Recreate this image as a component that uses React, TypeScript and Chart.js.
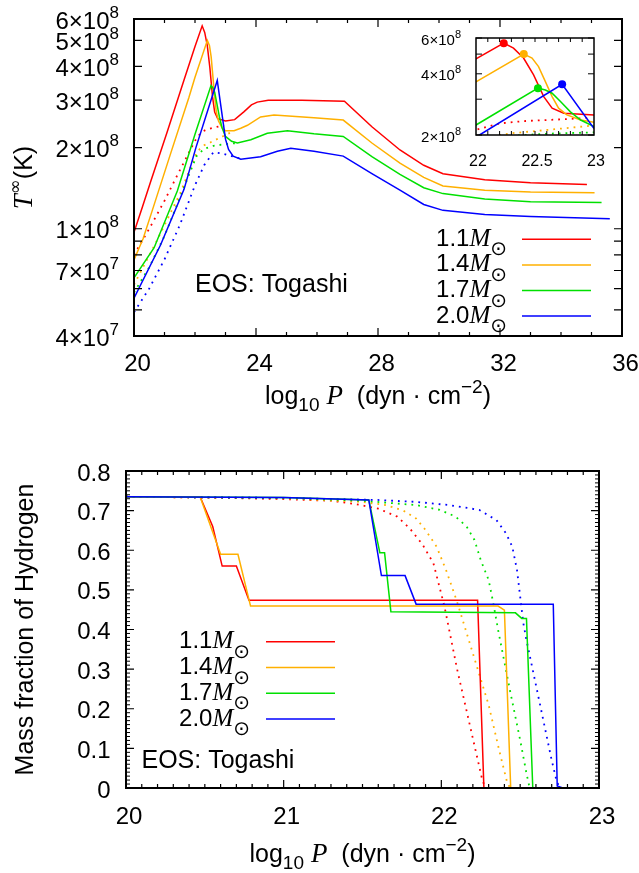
import React, { useEffect, useRef } from "react";
import { Chart, registerables } from "chart.js";

Chart.register(...registerables);

const W = 639;
const H = 873;

const SANS = '"Liberation Sans", Arial, Helvetica, sans-serif';
const SERIF = '"Liberation Serif", "Times New Roman", serif';
const SYM = '"DejaVu Sans", sans-serif';

const COLORS = ["#ff0000", "#ffb000", "#00e000", "#0000ff"];
const MASS_LABELS = ["1.1", "1.4", "1.7", "2.0"];

// ---------- Top panel: T∞ vs log10 P (solid) ----------
const RED_P = [20.0, 20.27, 20.55, 21.09, 21.64, 22.0, 22.235, 22.318, 22.403, 22.488, 22.574, 22.645, 22.744, 23.0, 23.3, 23.61, 23.85, 24.04, 24.4, 25.5, 26.9, 27.8, 28.72, 29.5, 30.13, 31.5, 33.0, 34.85];
const RED_T = [9.7e7, 1.2e8, 1.5e8, 2.29e8, 3.56e8, 4.74e8, 5.66e8, 5.35e8, 4.78e8, 3.95e8, 3.09e8, 2.71e8, 2.56e8, 2.51e8, 2.54e8, 2.72e8, 2.88e8, 2.95e8, 3.0e8, 3.0e8, 2.97e8, 2.39e8, 1.96e8, 1.72e8, 1.6e8, 1.52e8, 1.48e8, 1.46e8];

const ORANGE_P = [20.0, 20.3, 20.6, 21.2, 21.8, 22.0, 22.405, 22.475, 22.53, 22.588, 22.645, 22.7, 22.77, 22.887, 23.0, 23.28, 23.5, 23.72, 24.15, 24.59, 25.9, 26.86, 27.8, 28.72, 29.5, 30.13, 31.5, 33.0, 35.1];
const ORANGE_T = [7.66e7, 9.2e7, 1.17e8, 1.9e8, 3.07e8, 3.65e8, 5.0e8, 4.78e8, 4.34e8, 3.66e8, 3.09e8, 2.71e8, 2.51e8, 2.37e8, 2.31e8, 2.31e8, 2.36e8, 2.42e8, 2.6e8, 2.64e8, 2.58e8, 2.53e8, 2.08e8, 1.75e8, 1.55e8, 1.44e8, 1.39e8, 1.37e8, 1.36e8];

const GREEN_P = [20.0, 20.66, 21.42, 22.0, 22.525, 22.588, 22.645, 22.716, 22.8, 22.887, 23.0, 23.2, 23.39, 23.83, 24.37, 25.03, 25.9, 26.86, 27.8, 28.72, 29.5, 30.13, 31.5, 33.0, 35.33];
const GREEN_T = [6.57e7, 8.5e7, 1.38e8, 2.24e8, 3.4e8, 3.33e8, 3.21e8, 2.92e8, 2.6e8, 2.37e8, 2.2e8, 2.11e8, 2.08e8, 2.14e8, 2.26e8, 2.31e8, 2.25e8, 2.2e8, 1.85e8, 1.59e8, 1.42e8, 1.35e8, 1.29e8, 1.26e8, 1.25e8];

const BLUE_P = [20.0, 20.87, 21.64, 22.03, 22.73, 23.0, 23.1, 23.25, 23.5, 24.15, 24.7, 25.14, 25.9, 26.86, 27.8, 28.72, 29.5, 30.13, 31.5, 33.0, 35.6];
const BLUE_T = [5.53e7, 8.7e7, 1.4e8, 2.0e8, 3.55e8, 2.15e8, 1.97e8, 1.86e8, 1.81e8, 1.85e8, 1.94e8, 1.99e8, 1.94e8, 1.86e8, 1.6e8, 1.39e8, 1.23e8, 1.17e8, 1.13e8, 1.11e8, 1.09e8];

// ---------- Top panel: dotted curves ----------
const RED_DOT_P = [20.0, 20.5, 21.0, 21.42, 22.0, 22.2, 22.4, 22.6, 22.8, 22.95];
const RED_DOT_T = [8.0e7, 1.0e8, 1.27e8, 1.58e8, 2.12e8, 2.28e8, 2.34e8, 2.37e8, 2.4e8, 2.43e8];
const ORANGE_DOT_P = [20.0, 20.7, 21.51, 22.0, 22.16, 22.3, 22.5, 22.9, 23.26];
const ORANGE_DOT_T = [6.2e7, 8.8e7, 1.35e8, 1.86e8, 1.98e8, 2.04e8, 2.09e8, 2.2e8, 2.3e8];
const GREEN_DOT_P = [20.0, 20.5, 21.0, 21.5, 22.05, 22.3, 22.6, 23.0, 23.39];
const GREEN_DOT_T = [5.8e7, 7.2e7, 9.4e7, 1.3e8, 1.86e8, 1.98e8, 2.03e8, 2.06e8, 2.08e8];
const BLUE_DOT_P = [20.0, 20.5, 21.0, 21.5, 22.0, 22.3, 22.6, 22.9, 23.2, 23.5];
const BLUE_DOT_T = [4.9e7, 6.0e7, 7.7e7, 1.03e8, 1.45e8, 1.72e8, 1.92e8, 1.9e8, 1.86e8, 1.82e8];

// Peak markers (inset)
const PEAK_P = [22.235, 22.405, 22.525, 22.73];
const PEAK_T = [5.66e8, 5.0e8, 3.4e8, 3.55e8];

// ---------- Bottom panel: hydrogen mass fraction (solid) ----------
const H_RED_P = [20.0, 20.47, 20.55, 20.61, 20.7, 20.78, 22.23, 22.27, 22.8];
const H_RED_X = [0.735, 0.735, 0.66, 0.56, 0.56, 0.474, 0.474, 0.0, 0.0];
const H_ORANGE_P = [20.0, 20.47, 20.6, 20.71, 20.79, 22.36, 22.4, 22.44, 22.8];
const H_ORANGE_X = [0.735, 0.735, 0.59, 0.59, 0.459, 0.459, 0.449, 0.0, 0.0];
const H_GREEN_P = [20.0, 21.0, 21.54, 21.61, 21.64, 21.68, 22.47, 22.51, 22.54, 22.58, 22.8];
const H_GREEN_X = [0.735, 0.733, 0.727, 0.594, 0.594, 0.445, 0.442, 0.428, 0.428, 0.0, 0.0];
const H_BLUE_P = [20.0, 21.0, 21.54, 21.62, 21.77, 21.84, 22.71, 22.735, 22.77, 22.8];
const H_BLUE_X = [0.735, 0.733, 0.727, 0.536, 0.536, 0.464, 0.464, 0.005, 0.0, 0.0];

// ---------- Bottom panel: dotted ----------
const H_RED_DOT_P = [20.0, 20.5, 21.0, 21.3, 21.45, 21.6, 21.72, 21.8, 21.88, 21.95, 22.02, 22.1, 22.2, 22.26, 22.28];
const H_RED_DOT_X = [0.735, 0.733, 0.729, 0.725, 0.717, 0.705, 0.685, 0.655, 0.615, 0.567, 0.458, 0.3, 0.125, 0.02, 0.0];
const H_ORANGE_DOT_P = [20.0, 21.0, 21.5, 21.65, 21.76, 21.84, 21.9, 21.97, 22.03, 22.1, 22.2, 22.3, 22.37, 22.42, 22.44];
const H_ORANGE_DOT_X = [0.735, 0.731, 0.722, 0.714, 0.7, 0.68, 0.651, 0.609, 0.55, 0.47, 0.34, 0.21, 0.09, 0.01, 0.0];
const H_GREEN_DOT_P = [20.0, 21.0, 21.5, 21.84, 21.99, 22.09, 22.16, 22.21, 22.25, 22.3, 22.33, 22.36, 22.435, 22.5, 22.54, 22.56];
const H_GREEN_DOT_X = [0.735, 0.732, 0.725, 0.714, 0.702, 0.685, 0.66, 0.626, 0.575, 0.525, 0.466, 0.399, 0.247, 0.121, 0.037, 0.0];
const H_BLUE_DOT_P = [20.0, 21.0, 21.59, 21.84, 22.05, 22.24, 22.35, 22.41, 22.45, 22.48, 22.5, 22.52, 22.54, 22.6, 22.65, 22.7, 22.73, 22.75];
const H_BLUE_DOT_X = [0.735, 0.732, 0.727, 0.722, 0.714, 0.702, 0.676, 0.643, 0.609, 0.55, 0.483, 0.416, 0.373, 0.26, 0.165, 0.07, 0.02, 0.0];

// ---------- Tick values ----------
const TOP_X_LABELS = [20, 24, 28, 32, 36];
const TOP_X_MINOR = [21, 22, 23, 25, 26, 27, 29, 30, 31, 33, 34, 35];
const TOP_Y_TICKS = [4e7, 5e7, 6e7, 7e7, 8e7, 9e7, 1e8, 2e8, 3e8, 4e8, 5e8, 6e8];
const TOP_Y_LABELS = [4e7, 7e7, 1e8, 2e8, 3e8, 4e8, 5e8, 6e8];
const INSET_X_LABELS = [22, 22.5, 23];
const INSET_Y_TICKS = [2e8, 3e8, 4e8, 5e8, 6e8];
const INSET_Y_LABELS = [2e8, 4e8, 6e8];
const BOT_X_LABELS = [20, 21, 22, 23];
const BOT_Y_LABELS = [0, 0.1, 0.2, 0.3, 0.4, 0.5, 0.6, 0.7, 0.8];

// ---------- fonts ----------
const F_TICK = `24px ${SANS}`;
const F_SUP = `17px ${SANS}`;
const F_TITLE = `25px ${SANS}`;
const F_SUB = `19px ${SANS}`;
const F_ITAL = `italic 27px ${SERIF}`;
const F_LEG = `24px ${SANS}`;
const F_M = `italic 25px ${SERIF}`;
const F_ODOT = `20px ${SYM}`;

type Seg = { t: string; f: string; dy?: number };

function drawRich(ctx: CanvasRenderingContext2D, segs: Seg[], x: number, y: number, align: "left" | "right" | "center") {
  let w = 0;
  for (const s of segs) {
    ctx.font = s.f;
    w += ctx.measureText(s.t).width;
  }
  let cx = align === "left" ? x : align === "right" ? x - w : x - w / 2;
  ctx.textAlign = "left";
  ctx.textBaseline = "alphabetic";
  for (const s of segs) {
    ctx.font = s.f;
    ctx.fillText(s.t, cx, y + (s.dy || 0));
    cx += ctx.measureText(s.t).width;
  }
}

function ticksX(ctx: CanvasRenderingContext2D, a: any, s: any, vals: number[], len: number) {
  ctx.beginPath();
  for (const v of vals) {
    const p = s.getPixelForValue(v);
    ctx.moveTo(p, a.bottom);
    ctx.lineTo(p, a.bottom - len);
    ctx.moveTo(p, a.top);
    ctx.lineTo(p, a.top + len);
  }
  ctx.stroke();
}

function ticksY(ctx: CanvasRenderingContext2D, a: any, s: any, vals: number[], len: number) {
  ctx.beginPath();
  for (const v of vals) {
    const p = s.getPixelForValue(v);
    ctx.moveTo(a.left, p);
    ctx.lineTo(a.left + len, p);
    ctx.moveTo(a.right, p);
    ctx.lineTo(a.right - len, p);
  }
  ctx.stroke();
}

function legend(ctx: CanvasRenderingContext2D, xRight: number, lx0: number, lx1: number, y0: number, dy: number) {
  MASS_LABELS.forEach((m, i) => {
    const y = y0 + i * dy;
    ctx.fillStyle = "#000";
    drawRich(ctx, [{ t: m, f: F_LEG }, { t: "M", f: F_M }, { t: "⊙", f: F_ODOT, dy: 9.5 }], xRight, y + 6.5, "right");
    ctx.strokeStyle = COLORS[i];
    ctx.lineWidth = 1.5;
    ctx.beginPath();
    ctx.moveTo(lx0, y);
    ctx.lineTo(lx1, y);
    ctx.stroke();
  });
}

function xTitle(ctx: CanvasRenderingContext2D, cx: number, y: number) {
  drawRich(
    ctx,
    [
      { t: "log", f: F_TITLE },
      { t: "10", f: F_SUB, dy: 7 },
      { t: " ", f: F_TITLE },
      { t: "P", f: F_ITAL },
      { t: "  (dyn · cm", f: F_TITLE },
      { t: "−2", f: F_SUB, dy: -11 },
      { t: ")", f: F_TITLE },
    ],
    cx,
    y,
    "center"
  );
}

function rotated(ctx: CanvasRenderingContext2D, segs: Seg[], x: number, y: number) {
  ctx.save();
  ctx.translate(x, y);
  ctx.rotate(-Math.PI / 2);
  drawRich(ctx, segs, 0, 0, "center");
  ctx.restore();
}

const mkLine = (xs: number[], ys: number[], color: string, dotted: boolean, order: number) => ({
  data: xs.map((x, i) => ({ x, y: ys[i] })),
  borderColor: color,
  backgroundColor: color,
  borderWidth: dotted ? 1.8 : 1.5,
  borderDash: dotted ? [1.8, 5] : [],
  pointRadius: 0,
  tension: 0,
  fill: false,
  order,
});

function topDatasets(): any[] {
  const solid = [
    [RED_P, RED_T],
    [ORANGE_P, ORANGE_T],
    [GREEN_P, GREEN_T],
    [BLUE_P, BLUE_T],
  ];
  const dotted = [
    [RED_DOT_P, RED_DOT_T],
    [ORANGE_DOT_P, ORANGE_DOT_T],
    [GREEN_DOT_P, GREEN_DOT_T],
    [BLUE_DOT_P, BLUE_DOT_T],
  ];
  const ds: any[] = [];
  dotted.forEach((d, i) => ds.push(mkLine(d[0], d[1], COLORS[i], true, 10 - i)));
  solid.forEach((d, i) => ds.push(mkLine(d[0], d[1], COLORS[i], false, 5 - i)));
  return ds;
}

function botDatasets(): any[] {
  const solid = [
    [H_RED_P, H_RED_X],
    [H_ORANGE_P, H_ORANGE_X],
    [H_GREEN_P, H_GREEN_X],
    [H_BLUE_P, H_BLUE_X],
  ];
  const dotted = [
    [H_RED_DOT_P, H_RED_DOT_X],
    [H_ORANGE_DOT_P, H_ORANGE_DOT_X],
    [H_GREEN_DOT_P, H_GREEN_DOT_X],
    [H_BLUE_DOT_P, H_BLUE_DOT_X],
  ];
  const ds: any[] = [];
  dotted.forEach((d, i) => ds.push(mkLine(d[0], d[1], COLORS[i], true, 10 - i)));
  solid.forEach((d, i) => ds.push(mkLine(d[0], d[1], COLORS[i], false, 5 - i)));
  return ds;
}

const topDeco = {
  id: "topDeco",
  afterDraw(chart: any) {
    const ctx: CanvasRenderingContext2D = chart.ctx;
    const a = chart.chartArea;
    const sx = chart.scales.x;
    const sy = chart.scales.y;
    ctx.save();
    ctx.strokeStyle = "#000";
    ctx.fillStyle = "#000";
    ctx.lineWidth = 1.2;
    ticksX(ctx, a, sx, TOP_X_LABELS, 8);
    ticksX(ctx, a, sx, TOP_X_MINOR, 4);
    ticksY(ctx, a, sy, TOP_Y_TICKS, 8);
    ctx.lineWidth = 2;
    ctx.strokeRect(a.left, a.top, a.right - a.left, a.bottom - a.top);
    for (const v of TOP_X_LABELS) {
      drawRich(ctx, [{ t: String(v), f: F_TICK }], sx.getPixelForValue(v) + 3.5, 371, "center");
    }
    for (const v of TOP_Y_LABELS) {
      const e = Math.floor(Math.log10(v) + 1e-9);
      const m = Math.round(v / Math.pow(10, e));
      drawRich(ctx, [{ t: `${m}×10`, f: F_TICK }, { t: String(e), f: F_SUP, dy: -11 }], 119, sy.getPixelForValue(v) + 9.5, "right");
    }
    xTitle(ctx, (a.left + a.right) / 2, 404);
    rotated(ctx, [{ t: "T", f: F_ITAL }, { t: "∞", f: `18px ${SYM}`, dy: -11 }, { t: "(K)", f: F_TITLE }], 32, (a.top + a.bottom) / 2);
    legend(ctx, 507, 522, 591, 239.3, 25.6);
    ctx.fillStyle = "#000";
    drawRich(ctx, [{ t: "EOS: Togashi", f: F_TITLE }], 195, 291.7, "left");
    ctx.restore();
  },
};

const insetDeco = {
  id: "insetDeco",
  beforeDatasetsDraw(chart: any) {
    const ctx: CanvasRenderingContext2D = chart.ctx;
    const a = chart.chartArea;
    ctx.save();
    ctx.fillStyle = "#fff";
    ctx.fillRect(a.left, a.top, a.right - a.left, a.bottom - a.top);
    ctx.restore();
  },
  afterDraw(chart: any) {
    const ctx: CanvasRenderingContext2D = chart.ctx;
    const a = chart.chartArea;
    const sx = chart.scales.x;
    const sy = chart.scales.y;
    ctx.save();
    ctx.strokeStyle = "#000";
    ctx.fillStyle = "#000";
    ctx.lineWidth = 1;
    const minor: number[] = [];
    for (let i = 1; i < 10; i++) minor.push(22 + i / 10);
    ticksX(ctx, a, sx, minor, 4);
    ticksY(ctx, a, sy, INSET_Y_TICKS, 6);
    ctx.lineWidth = 1.5;
    ctx.strokeRect(a.left, a.top, a.right - a.left, a.bottom - a.top);
    for (const v of INSET_X_LABELS) {
      drawRich(ctx, [{ t: String(v), f: `16px ${SANS}` }], sx.getPixelForValue(v) + 2, 165.7, "center");
    }
    for (const v of INSET_Y_LABELS) {
      const e = Math.floor(Math.log10(v) + 1e-9);
      const m = Math.round(v / Math.pow(10, e));
      drawRich(ctx, [{ t: `${m}×10`, f: `15px ${SANS}` }, { t: String(e), f: `11px ${SANS}`, dy: -7 }], 461, sy.getPixelForValue(v) + 6.5, "right");
    }
    ctx.restore();
  },
};

const botDeco = {
  id: "botDeco",
  afterDraw(chart: any) {
    const ctx: CanvasRenderingContext2D = chart.ctx;
    const a = chart.chartArea;
    const sx = chart.scales.x;
    const sy = chart.scales.y;
    ctx.save();
    ctx.strokeStyle = "#000";
    ctx.fillStyle = "#000";
    ctx.lineWidth = 1.2;
    const xMinor: number[] = [];
    for (let i = 1; i < 30; i++) if (i % 10 !== 0) xMinor.push(20 + i / 10);
    const yMinor: number[] = [];
    for (let i = 1; i < 80; i++) if (i % 10 !== 0) yMinor.push(i / 100);
    ticksX(ctx, a, sx, BOT_X_LABELS, 8);
    ticksX(ctx, a, sx, xMinor, 4);
    ticksY(ctx, a, sy, BOT_Y_LABELS, 8);
    ctx.lineWidth = 1;
    ticksY(ctx, a, sy, yMinor, 4);
    ctx.lineWidth = 2;
    ctx.strokeRect(a.left, a.top, a.right - a.left, a.bottom - a.top);
    for (const v of BOT_X_LABELS) {
      drawRich(ctx, [{ t: String(v), f: F_TICK }], sx.getPixelForValue(v) + 3, 823.5, "center");
    }
    for (const v of BOT_Y_LABELS) {
      drawRich(ctx, [{ t: v === 0 ? "0" : v.toFixed(1), f: F_TICK }], 110.5, sy.getPixelForValue(v) + 9.5, "right");
    }
    xTitle(ctx, (a.left + a.right) / 2, 861.5);
    rotated(ctx, [{ t: "Mass fraction of Hydrogen", f: F_TITLE }], 33, (a.top + a.bottom) / 2);
    legend(ctx, 250, 266, 335, 641.7, 25.8);
    ctx.fillStyle = "#000";
    drawRich(ctx, [{ t: "EOS: Togashi", f: F_TITLE }], 141.5, 768.3, "left");
    ctx.restore();
  },
};

const baseOptions = (pad: any, xs: any, ys: any) => ({
  responsive: false,
  maintainAspectRatio: false,
  animation: false,
  events: [],
  layout: { padding: pad },
  scales: { x: xs, y: ys },
  plugins: { legend: { display: false }, tooltip: { enabled: false } },
});

function topConfig(): any {
  return {
    type: "line",
    data: { datasets: topDatasets() },
    options: baseOptions(
      { left: 134, top: 19, right: W - 622, bottom: H - 336 },
      { type: "linear", min: 20, max: 36, display: false },
      { type: "logarithmic", min: 4e7, max: 6e8, display: false }
    ),
    plugins: [topDeco],
  };
}

function insetConfig(): any {
  const ds = topDatasets();
  PEAK_P.forEach((p, i) => {
    ds.push({
      data: [{ x: p, y: PEAK_T[i] }],
      showLine: false,
      pointRadius: 4,
      pointBorderWidth: 0,
      pointBackgroundColor: COLORS[i],
      borderColor: COLORS[i],
      backgroundColor: COLORS[i],
      order: 0,
    });
  });
  return {
    type: "line",
    data: { datasets: ds },
    options: baseOptions(
      { left: 476, top: 38, right: W - 594, bottom: H - 135 },
      { type: "linear", min: 22, max: 23, display: false },
      { type: "logarithmic", min: 2e8, max: 6e8, display: false }
    ),
    plugins: [insetDeco],
  };
}

function botConfig(): any {
  return {
    type: "line",
    data: { datasets: botDatasets() },
    options: baseOptions(
      { left: 126, top: 471, right: W - 599, bottom: H - 788 },
      { type: "linear", min: 20, max: 23, display: false },
      { type: "linear", min: 0, max: 0.8, display: false }
    ),
    plugins: [botDeco],
  };
}

export default function App() {
  const topRef = useRef<HTMLCanvasElement>(null);
  const insetRef = useRef<HTMLCanvasElement>(null);
  const botRef = useRef<HTMLCanvasElement>(null);

  useEffect(() => {
    const charts = [
      new Chart(topRef.current as HTMLCanvasElement, topConfig()),
      new Chart(botRef.current as HTMLCanvasElement, botConfig()),
      new Chart(insetRef.current as HTMLCanvasElement, insetConfig()),
    ];
    return () => charts.forEach((c) => c.destroy());
  }, []);

  const st: React.CSSProperties = { position: "absolute", left: 0, top: 0 };
  return (
    <div style={{ position: "absolute", left: 0, top: 0, width: W, height: H, background: "#fff" }}>
      <canvas ref={topRef} width={W} height={H} style={st} />
      <canvas ref={botRef} width={W} height={H} style={st} />
      <canvas ref={insetRef} width={W} height={H} style={st} />
    </div>
  );
}
